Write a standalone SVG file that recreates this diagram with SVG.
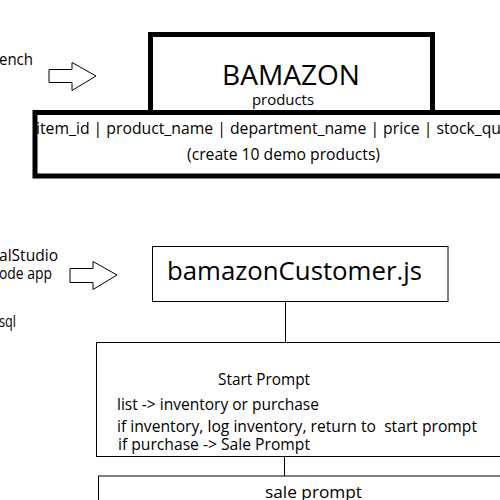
<svg xmlns="http://www.w3.org/2000/svg" width="500" height="500" viewBox="0 0 500 500">
<style>
text{font-family:"Open Sans","Noto Sans","DejaVu Sans",sans-serif;fill:#000}
.thick{fill:none;stroke:#000;stroke-width:5}
.thin{fill:#fff;stroke:#000;stroke-width:1}
.arrow{fill:#fff;stroke:#000;stroke-width:1}
.t15{font-size:16px}
</style>
<rect width="500" height="500" fill="#fff"/>
<g id="left-notes">
<text class="t15" x="-1" y="65" textLength="34" lengthAdjust="spacingAndGlyphs">ench</text>
<text class="t15" x="-1" y="261" textLength="59" lengthAdjust="spacingAndGlyphs">alStudio</text>
<text class="t15" x="-1" y="279" textLength="53" lengthAdjust="spacingAndGlyphs">ode app</text>
<text class="t15" x="-1" y="327" textLength="17" lengthAdjust="spacingAndGlyphs">sql</text>
</g>
<g id="arrow-1">
<polygon class="arrow" points="49,69.5 72,69.5 72,62.5 96,76 72,90.5 72,82.5 49,82.5"/>
</g>
<g id="arrow-2">
<polygon class="arrow" points="70,268.5 93,268.5 93,261.5 117,275 93,289.5 93,282.5 70,282.5"/>
</g>
<g id="table">
<rect class="thick" x="35" y="112.5" width="480" height="63.5"/>
<text class="t15" x="36" y="134" textLength="465" lengthAdjust="spacingAndGlyphs">item_id | product_name | department_name | price | stock_qu</text>
<text class="t15" x="283.5" y="160" text-anchor="middle" textLength="193" lengthAdjust="spacingAndGlyphs">(create 10 demo products)</text>
</g>
<g id="bamazon">
<rect class="thick" x="150.5" y="34.5" width="282" height="78"/>
<text x="291" y="85" font-size="28" text-anchor="middle" textLength="138" lengthAdjust="spacingAndGlyphs">BAMAZON</text>
<text x="283" y="105" font-size="15" text-anchor="middle" textLength="62" lengthAdjust="spacingAndGlyphs">products</text>
</g>
<g id="connectors">
<line x1="285.5" y1="302" x2="285.5" y2="342.5" stroke="#000" stroke-width="1"/>
<line x1="284.5" y1="457" x2="284.5" y2="476" stroke="#000" stroke-width="1"/>
</g>
<g id="customer">
<rect class="thin" x="152.5" y="246.5" width="295.5" height="55"/>
<text x="167" y="280" font-size="26" textLength="255" lengthAdjust="spacingAndGlyphs">bamazonCustomer.js</text>
</g>
<g id="start-prompt">
<rect class="thin" x="96.5" y="342.5" width="420" height="114"/>
<text class="t15" x="218" y="385" textLength="92" lengthAdjust="spacingAndGlyphs">Start Prompt</text>
<text class="t15" x="117" y="410" textLength="202" lengthAdjust="spacingAndGlyphs">list -&gt; inventory or purchase</text>
<text class="t15" x="117" y="432" textLength="360" lengthAdjust="spacingAndGlyphs" xml:space="preserve">if inventory, log inventory, return to  start prompt</text>
<text class="t15" x="118" y="450" textLength="192" lengthAdjust="spacingAndGlyphs">if purchase -&gt; Sale Prompt</text>
</g>
<g id="sale-prompt">
<rect class="thin" x="98.5" y="476" width="420" height="40"/>
<text class="t15" x="265" y="498" textLength="97" lengthAdjust="spacingAndGlyphs">sale prompt</text>
</g>
</svg>
